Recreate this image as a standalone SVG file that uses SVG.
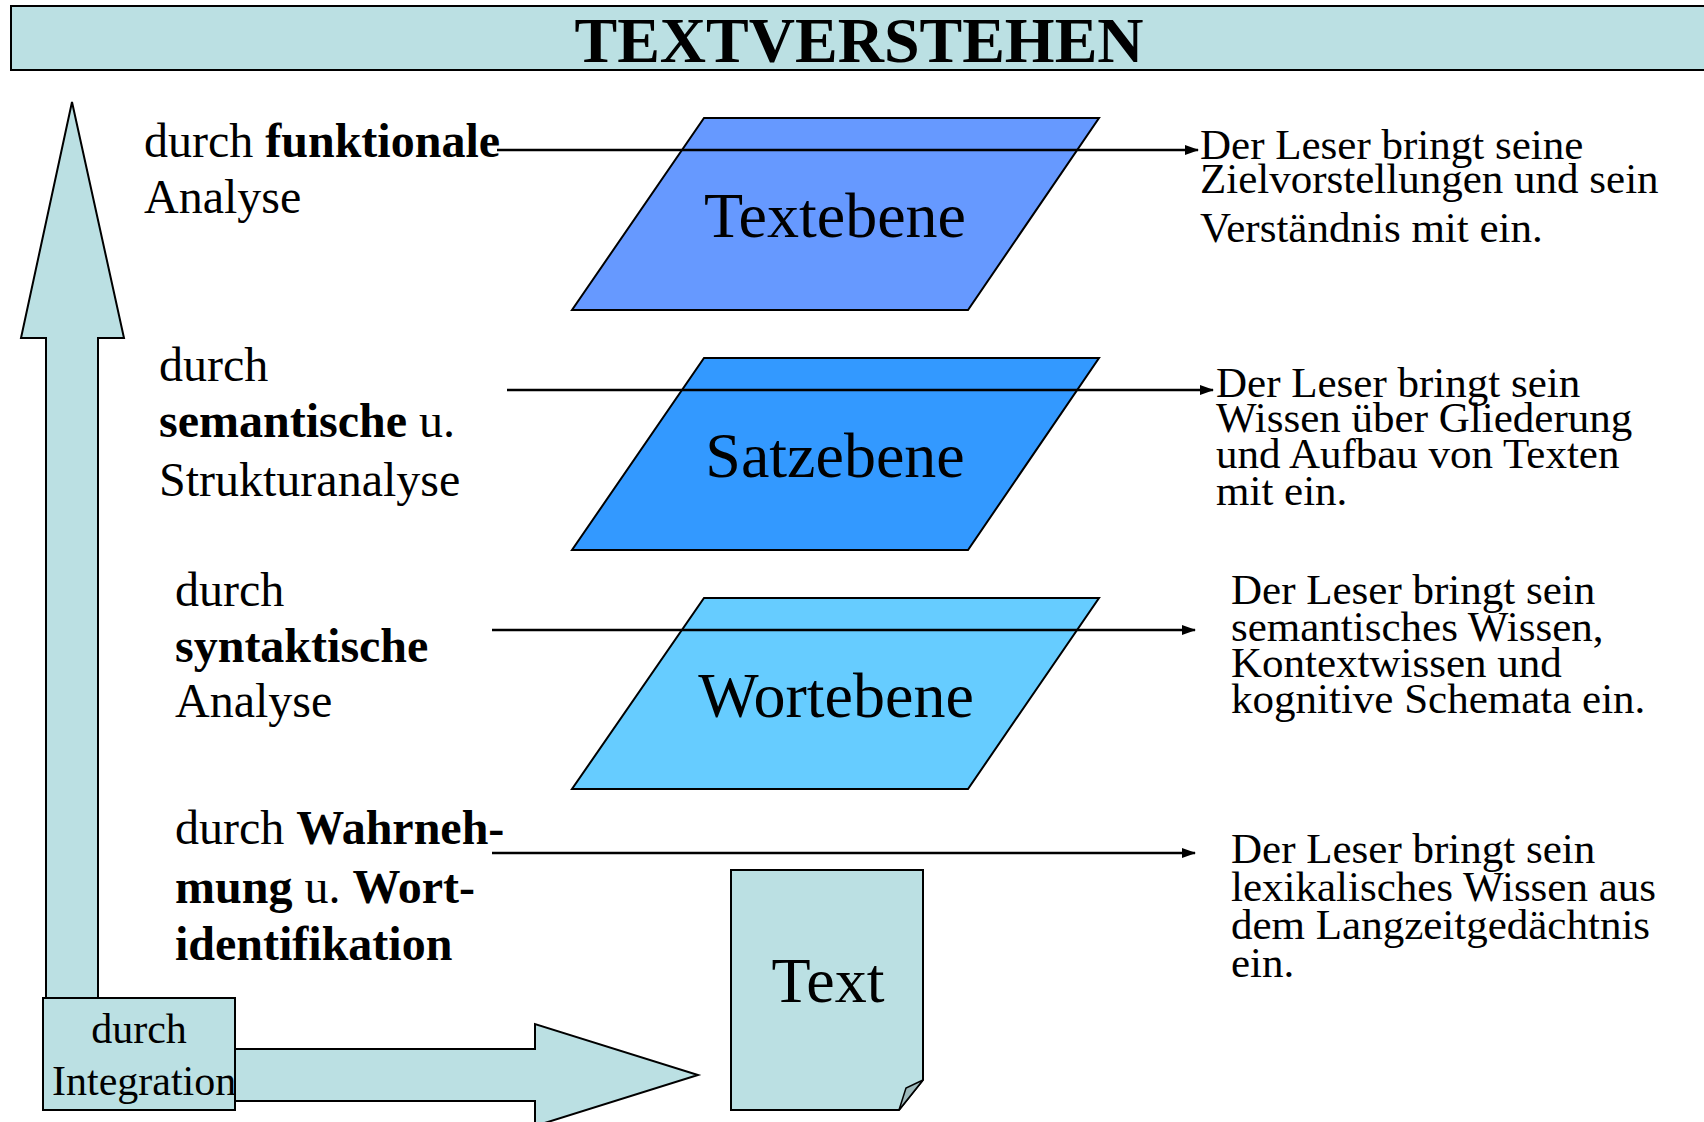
<svg xmlns="http://www.w3.org/2000/svg" width="1704" height="1122" viewBox="0 0 1704 1122">
<defs>
<marker id="ah" markerWidth="14" markerHeight="10" refX="13" refY="5" orient="auto" markerUnits="userSpaceOnUse">
<path d="M0,0 L14,5 L0,10 Z" fill="#000"/>
</marker>
<style>
.t{font-family:"Liberation Serif","Times New Roman",serif;fill:#000}
.lbl{font-size:48px}
.rt{font-size:43px}
.lvl{font-size:64px;text-anchor:middle}
.b{font-weight:bold}
.teal{fill:#BBE0E3;stroke:#000;stroke-width:2}
.conn{stroke:#000;stroke-width:2.5;fill:none;marker-end:url(#ah)}
</style>
</defs>
<rect width="1704" height="1122" fill="#fff"/>

<g id="title">
<rect x="11" y="6" width="1700" height="64" class="teal"/>
<text x="859" y="62" class="t b" font-size="64" text-anchor="middle">TEXTVERSTEHEN</text>
</g>

<g id="up-arrow">
<path d="M72,102 L124,338 L98,338 L98,1000 L46,1000 L46,338 L21,338 Z" class="teal"/>
</g>

<g id="right-arrow">
<path d="M220,1049 L535,1049 L535,1024 L698,1075 L535,1126 L535,1101 L220,1101 Z" class="teal"/>
</g>

<g id="integration">
<rect x="43" y="998" width="192" height="112" class="teal"/>
<text x="139" y="1043" class="t" font-size="42" text-anchor="middle">durch</text>
<text x="52" y="1095" class="t" font-size="42">Integration</text>
</g>

<g id="textebene">
<path d="M704,118 L1099,118 L968,310 L572,310 Z" fill="#6699FF" stroke="#000" stroke-width="2"/>
<text x="835" y="237" class="t lvl">Textebene</text>
</g>

<g id="satzebene">
<path d="M704,358 L1099,358 L968,550 L572,550 Z" fill="#3399FF" stroke="#000" stroke-width="2"/>
<text x="835" y="477" class="t lvl">Satzebene</text>
</g>

<g id="wortebene">
<path d="M704,598 L1099,598 L968,789 L572,789 Z" fill="#66CCFF" stroke="#000" stroke-width="2"/>
<text x="836" y="717" class="t lvl">Wortebene</text>
</g>

<g id="text-doc">
<path d="M731,870 L923,870 L923,1080 L899,1110 L731,1110 Z" class="teal"/>
<path d="M923,1080 L906,1088 L899,1110 Z" fill="#9DB9BC" stroke="#000" stroke-width="1.5"/>
<text x="828" y="1002" class="t lvl">Text</text>
</g>

<g id="label-funktional">
<text x="144" y="157" class="t lbl">durch <tspan class="b">funktionale</tspan></text>
<text x="144" y="213" class="t lbl">Analyse</text>
</g>

<g id="label-semantisch">
<text x="159" y="381" class="t lbl">durch</text>
<text x="159" y="437" class="t lbl"><tspan class="b">semantische</tspan> u.</text>
<text x="159" y="496" class="t lbl">Strukturanalyse</text>
</g>

<g id="label-syntaktisch">
<text x="175" y="606" class="t lbl">durch</text>
<text x="175" y="662" class="t lbl b">syntaktische</text>
<text x="175" y="717" class="t lbl">Analyse</text>
</g>

<g id="label-wahrnehmung">
<text x="175" y="844" class="t lbl">durch <tspan class="b">Wahrneh-</tspan></text>
<text x="175" y="903" class="t lbl"><tspan class="b">mung</tspan> u. <tspan class="b">Wort-</tspan></text>
<text x="175" y="960" class="t lbl b">identifikation</text>
</g>

<g id="desc-text">
<text x="1200" y="159" class="t rt">Der Leser bringt seine</text>
<text x="1200" y="193" class="t rt">Zielvorstellungen und sein</text>
<text x="1200" y="242" class="t rt">Verständnis mit ein.</text>
</g>

<g id="desc-satz">
<text x="1216" y="397" class="t rt">Der Leser bringt sein</text>
<text x="1216" y="432" class="t rt">Wissen über Gliederung</text>
<text x="1216" y="468" class="t rt">und Aufbau von Texten</text>
<text x="1216" y="505" class="t rt">mit ein.</text>
</g>

<g id="desc-wort">
<text x="1231" y="604" class="t rt">Der Leser bringt sein</text>
<text x="1231" y="641" class="t rt">semantisches Wissen,</text>
<text x="1231" y="677" class="t rt">Kontextwissen und</text>
<text x="1231" y="713" class="t rt">kognitive Schemata ein.</text>
</g>

<g id="desc-lex">
<text x="1231" y="863" class="t rt">Der Leser bringt sein</text>
<text x="1231" y="901" class="t rt">lexikalisches Wissen aus</text>
<text x="1231" y="939" class="t rt">dem Langzeitgedächtnis</text>
<text x="1231" y="977" class="t rt">ein.</text>
</g>

<g id="connectors">
<line x1="497" y1="150" x2="1198" y2="150" class="conn"/>
<line x1="507" y1="390" x2="1213" y2="390" class="conn"/>
<line x1="492" y1="630" x2="1195" y2="630" class="conn"/>
<line x1="492" y1="853" x2="1195" y2="853" class="conn"/>
</g>
</svg>
